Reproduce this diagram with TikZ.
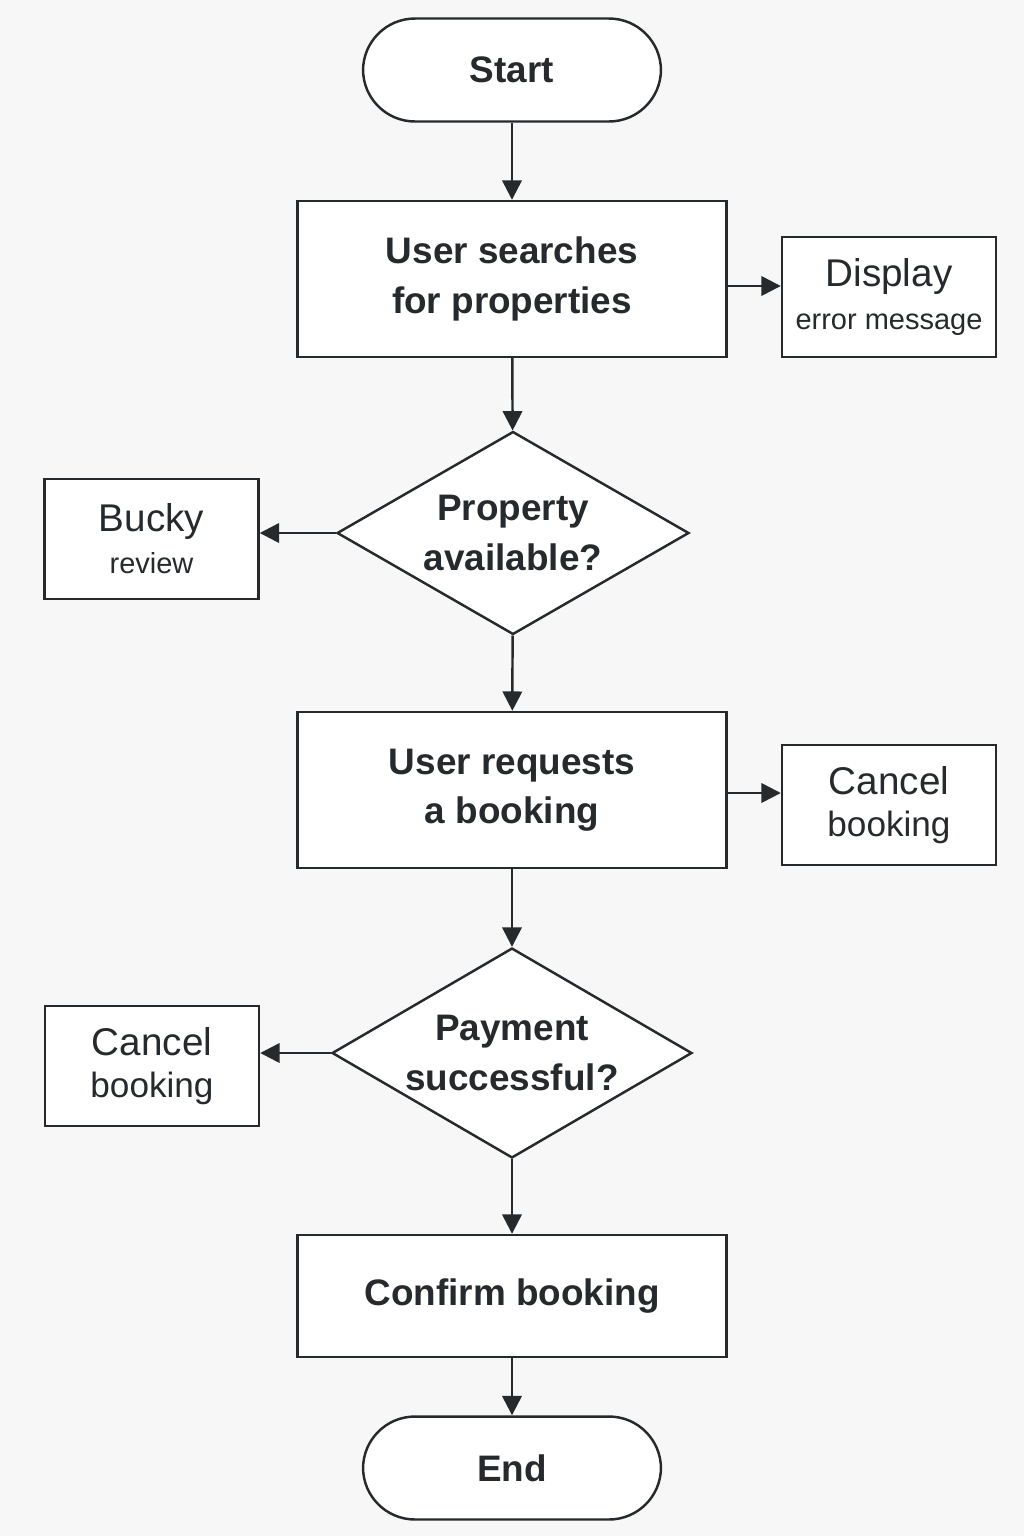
\documentclass[tikz,border=0pt]{standalone}
\usepackage{fontspec}
\setmainfont{Liberation Sans}
\usetikzlibrary{shapes.geometric,arrows.meta}
\definecolor{ink}{HTML}{262A2C}
\definecolor{paper}{HTML}{F7F7F7}
\begin{document}
\begin{tikzpicture}[
    x=0.02cm, y=-0.02cm,
    line width=1.4pt, draw=ink, text=ink,
    terminal/.style={rectangle, rounded corners=1.04cm, draw=ink, fill=white, minimum width=5.96cm, minimum height=2.06cm, font=\fontsize{21}{28}\selectfont\bfseries},
    process/.style={rectangle, draw=ink, fill=white, align=center, minimum width=8.58cm, minimum height=3.12cm, font=\fontsize{21}{28}\selectfont\bfseries},
    decision/.style={diamond, draw=ink, fill=white, align=center, aspect=1.73, inner sep=0pt, font=\fontsize{21}{28}\selectfont\bfseries},
    sidebox/.style={rectangle, draw=ink, fill=white, align=center, minimum width=4.28cm, minimum height=2.4cm, inner sep=0pt, font=\fontsize{20}{24}\selectfont},
    arrow/.style={draw=ink, line width=1.4pt, -{Triangle[length=11pt,width=11pt]}}
]
\useasboundingbox[fill=paper] (0,0) rectangle (1024,1536);

% Main column
\node[terminal] (start) at (512,70) {Start};
\node[process] (search) at (512,279) {User searches\\for properties};
\node[decision, minimum width=7.04cm, minimum height=4.06cm] (avail) at (513,533) {Property\\available?};
\node[process] (request) at (512,790) {User requests\\a booking};
\node[decision, minimum width=7.2cm, minimum height=4.2cm] (pay) at (512,1053) {Payment\\successful?};
\node[process, minimum height=2.44cm] (confirm) at (512,1296) {\raisebox{-3pt}{Confirm booking}};
\node[terminal] (end) at (512,1468) {End};

% Side boxes
\node[sidebox] (display) at (889,297) {{\fontsize{22}{24}\selectfont Display}\\{\fontsize{16.5}{24}\selectfont error message}};
\node[sidebox] (review) at (151.5,539) {{\fontsize{22}{24}\selectfont Bucky}\\{\fontsize{16.5}{24}\selectfont review}};
\node[sidebox] (cancelA) at (889,805) {{\fontsize{22}{24}\selectfont Cancel}\\{\fontsize{20}{24}\selectfont booking}};
\node[sidebox] (cancelB) at (152,1066) {{\fontsize{22}{24}\selectfont Cancel}\\{\fontsize{20}{24}\selectfont booking}};

% Arrows
\draw[arrow] (start) -- (search);
\draw[arrow] (search) -- (avail);
\draw[arrow] (avail) -- (request);
\draw[arrow] (request) -- (pay);
\draw[arrow] (pay) -- (confirm);
\draw[arrow] (confirm) -- (end);

\draw[arrow] ([yshift=-0.14cm]search.east) -- ([yshift=-0.14cm]search.east -| display.west);
\draw[arrow] (avail.west) -- (avail.west -| review.east);
\draw[arrow] ([yshift=-0.06cm]request.east) -- ([yshift=-0.06cm]request.east -| cancelA.west);
\draw[arrow] (pay.west) -- (pay.west -| cancelB.east);

\end{tikzpicture}
\end{document}
